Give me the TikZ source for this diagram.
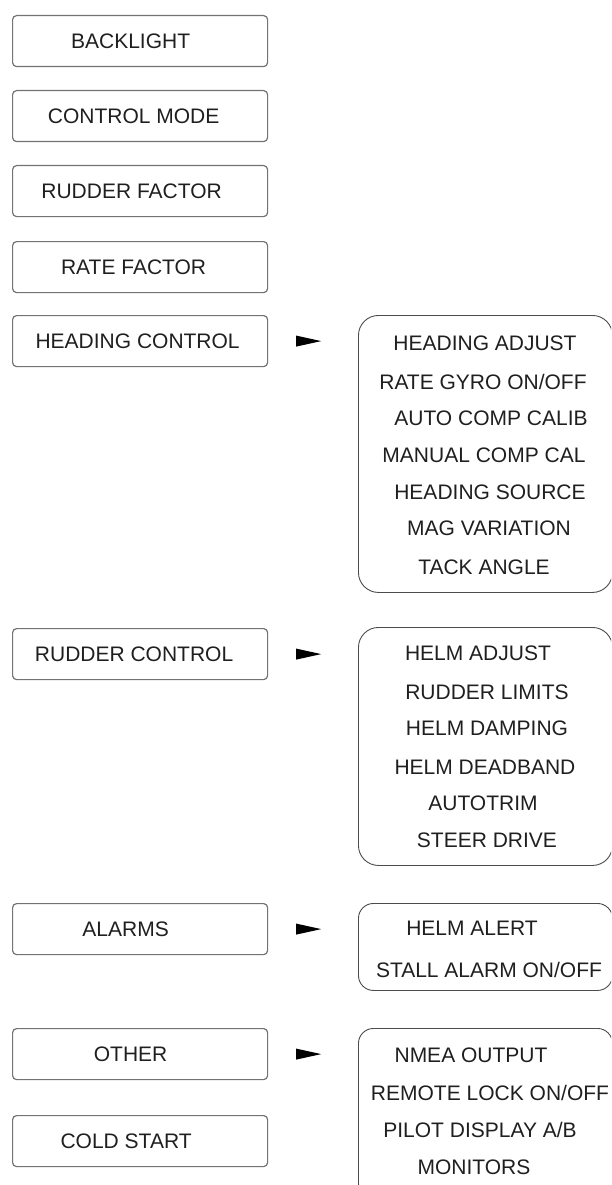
\documentclass[tikz,border=0pt]{standalone}
\usepackage{fontspec}
\setmainfont{Liberation Sans}
\usetikzlibrary{calc}
\begin{document}
\begin{tikzpicture}[x=1pt,y=-1pt,
  menubox/.style={draw=black!55, line width=1.2pt, rounded corners=4pt, minimum width=255pt, minimum height=51pt, inner sep=0pt, anchor=north west},
  listbox/.style={draw=black!70, line width=0.9pt, inner sep=0pt, anchor=north west, minimum width=254pt},
  txt/.style={font=\fontsize{21}{25}\selectfont, text=black!88, inner sep=0pt, text height=15.4pt, text depth=0pt},
  tip/.style={fill=black}
]
\useasboundingbox (0,0) rectangle (611,1185);
\clip (0,0) rectangle (611,1185);

% left menu boxes
\node[menubox] (b1) at (12,15) {};
\node[menubox] (b2) at (12,90) {};
\node[menubox] (b3) at (12,165) {};
\node[menubox] (b4) at (12,241) {};
\node[menubox] (b5) at (12,315) {};
\node[menubox] (b6) at (12,628) {};
\node[menubox] (b7) at (12,903) {};
\node[menubox] (b8) at (12,1028) {};
\node[menubox] (b9) at (12,1115) {};

\node[txt, xshift=-9.5pt] (t1) at (b1.center) {BACKLIGHT};
\node[txt, xshift=-6.5pt] (t2) at (b2.center) {CONTROL MODE};
\node[txt, xshift=-8.5pt] (t3) at (b3.center) {RUDDER FACTOR};
\node[txt, xshift=-6.5pt] (t4) at (b4.center) {RATE FACTOR};
\node[txt, xshift=-2.5pt] (t5) at (b5.center) {HEADING CONTROL};
\node[txt, xshift=-6pt] (t6) at (b6.center) {RUDDER CONTROL};
\node[txt, xshift=-14.5pt] (t7) at (b7.center) {ALARMS};
\node[txt, xshift=-9.5pt] (t8) at (b8.center) {OTHER};
\node[txt, xshift=-14pt] (t9) at (b9.center) {COLD START};

% pointer arrows
\foreach \b in {b5,b6,b7,b8}{
  \fill[tip] ($(\b.east)+(28,-5.5)$) -- ($(\b.east)+(53,0)$) -- ($(\b.east)+(28,5.5)$) -- cycle;
}

% right sub-menu boxes
\node[listbox, rounded corners=20pt, minimum height=277pt] (h) at (358,315) {};
\node[listbox, rounded corners=20pt, minimum height=238pt] (r) at (358,627) {};
\node[listbox, rounded corners=15pt, minimum height=87pt] (a) at (358,903) {};
\node[listbox, rounded corners=15pt, minimum height=170pt] (o) at (358,1028) {};

% heading control items
\node[txt] (h1) at (485,343) {HEADING ADJUST};
\node[txt] (h2) at (483,382) {RATE GYRO ON/OFF};
\node[txt] (h3) at (491,418) {AUTO COMP CALIB};
\node[txt] (h4) at (484,455) {MANUAL COMP CAL};
\node[txt] (h5) at (490,492) {HEADING SOURCE};
\node[txt] (h6) at (489,528) {MAG VARIATION};
\node[txt] (h7) at (484,567) {TACK ANGLE};

% rudder control items
\node[txt] (r1) at (478,653) {HELM ADJUST};
\node[txt] (r2) at (487,692) {RUDDER LIMITS};
\node[txt] (r3) at (487,728) {HELM DAMPING};
\node[txt] (r4) at (485,767) {HELM DEADBAND};
\node[txt] (r5) at (483,803) {AUTOTRIM};
\node[txt] (r6) at (487,840) {STEER DRIVE};

% alarms items
\node[txt] (a1) at (472,928) {HELM ALERT};
\node[txt] (a2) at (489,970) {STALL ALARM ON/OFF};

% other items
\node[txt] (o1) at (471,1055) {NMEA OUTPUT};
\node[txt] (o2) at (490,1093) {REMOTE LOCK ON/OFF};
\node[txt] (o3) at (480,1130) {PILOT DISPLAY A/B};
\node[txt] (o4) at (474,1167) {MONITORS};
\end{tikzpicture}
\end{document}
